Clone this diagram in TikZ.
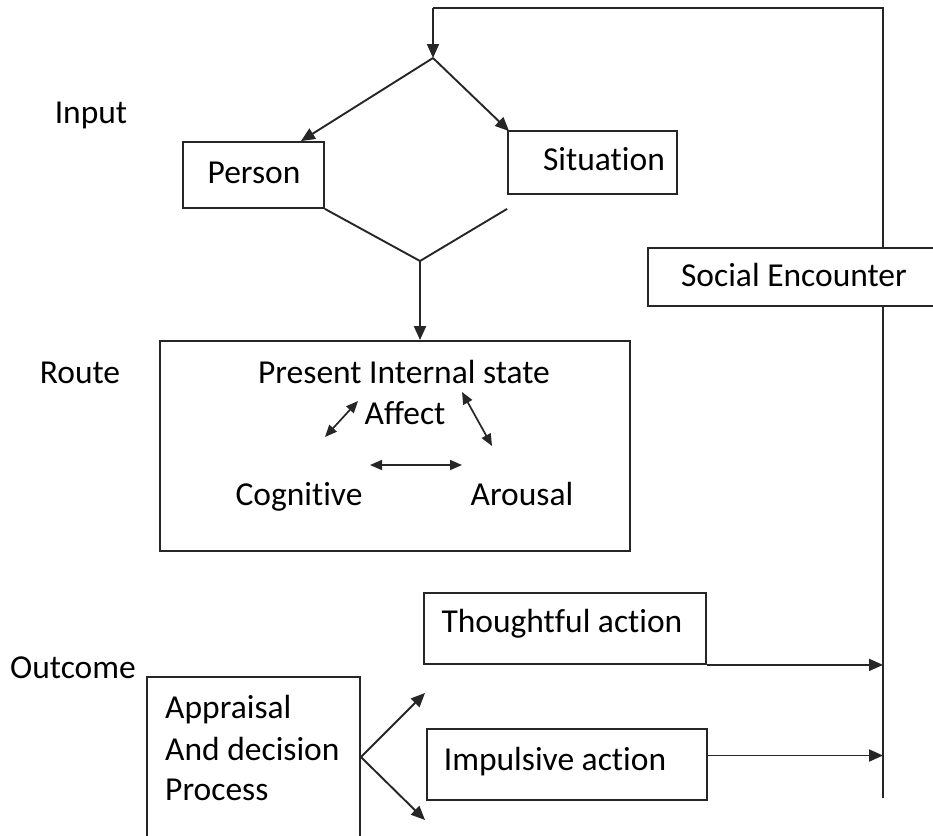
\documentclass[tikz,border=0pt]{standalone}
\usepackage{fontspec}
\setmainfont{Carlito}[Ligatures=NoCommon]
\usetikzlibrary{arrows.meta}
\begin{document}
\begin{tikzpicture}[x=1pt,y=-1pt,
  line/.style={draw=black!85, line width=1.9pt},
  arr/.style={line, -{Triangle[length=14pt,width=12pt]}},
  darr/.style={line, line width=1.7pt, {Triangle[length=12pt,width=10pt]}-{Triangle[length=12pt,width=10pt]}},
  boxn/.style={draw=black!85, line width=1.8pt, inner sep=0pt},
  lbl/.style={font=\fontsize{33.5}{41}\selectfont, inner sep=0pt, anchor=base}]
\useasboundingbox (0,0) rectangle (933,835);

% boxes
\node[boxn, minimum width=141pt, minimum height=66pt] (person) at (253.5,175) {};
\node[boxn, minimum width=169pt, minimum height=63pt] (situation) at (592.5,162.5) {};
\node[boxn, minimum width=292pt, minimum height=58pt] (social) at (794,277) {};
\node[boxn, minimum width=470pt, minimum height=210pt] (route) at (395,446) {};
\node[boxn, minimum width=282pt, minimum height=71pt] (thought) at (565,628.5) {};
\node[boxn, minimum width=280pt, minimum height=71pt] (impulse) at (567,764.5) {};
\node[boxn, minimum width=213pt, minimum height=160pt] (appr) at (253.5,757) {};

% texts
\node[lbl] (tinput) at (91,123) {Input};
\node[lbl] (troute) at (80,383) {Route};
\node[lbl] (toutcome) at (73,678) {Outcome};
\node[lbl] (tperson) at (254,183) {Person};
\node[lbl] (tsituation) at (604,170) {Situation};
\node[lbl] (tsocial) at (794,286) {Social Encounter};
\node[lbl] (tpresent) at (404,383) {Present Internal state};
\node[lbl] (taffect) at (405,424) {Affect};
\node[lbl] (tcog) at (299,505) {Cognitive};
\node[lbl] (tarousal) at (522,505) {Arousal};
\node[lbl] (tthought) at (562,632) {Thoughtful action};
\node[lbl] (timpulse) at (555,770) {Impulsive action};
\node[lbl, anchor=base west] (tappr1) at (165,718) {Appraisal};
\node[lbl, anchor=base west] (tappr2) at (165,760) {And decision};
\node[lbl, anchor=base west] (tappr3) at (165,800) {Process};

% coordinates
\coordinate (apex) at (433,58);
\coordinate (merge) at (420,261);
\coordinate (railtop) at (883,8);
\coordinate (railbot) at (883,798);
\coordinate (tipup) at (425,693);
\coordinate (tipdown) at (425,820);
\coordinate (ca1) at (325,437);
\coordinate (ca2) at (358,401);
\coordinate (cb1) at (462,392);
\coordinate (cb2) at (492,446);
\coordinate (cc1) at (370,465);
\coordinate (cc2) at (462,465);

% feedback loop
\draw[line] (social.north -| railtop) -- (railtop) -- (railtop -| apex);
\draw[arr] (railtop -| apex) -- (apex);
\draw[line] (social.south -| railtop) -- (railbot);

% diamond
\draw[arr] (apex) -- ([xshift=-24pt]person.north east);
\draw[arr] (apex) -- ([xshift=2pt,yshift=-1pt]situation.north west);
\draw[line] (person.south east) -- (merge);
\draw[line] (situation.south west |- person.south) -- (merge);
\draw[arr] (merge) -- (route.north -| merge);

% route arrows
\draw[darr] (ca1) -- (ca2);
\draw[darr] (cb1) -- (cb2);
\draw[darr] (cc1) -- (cc2);

% outcome arrows
\draw[arr] (appr.east) -- (tipup);
\draw[arr] (appr.east) -- (tipdown);
\draw[arr] (thought.south east) -- (thought.south east -| railtop);
\draw[arr] ([yshift=9pt]impulse.east) -- ([yshift=9pt]impulse.east -| railtop);
\end{tikzpicture}
\end{document}
